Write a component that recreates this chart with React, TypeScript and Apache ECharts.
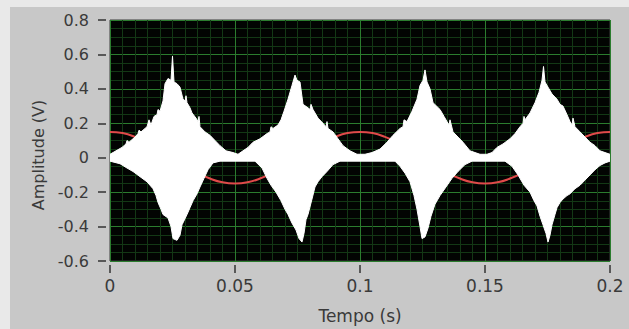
import React, { useEffect, useRef } from "react";
import * as echarts from "echarts";

// Reference sinusoid (red trace)
const refTime = [0, 0.005, 0.01, 0.015, 0.02, 0.025, 0.03, 0.035, 0.04, 0.045, 0.05, 0.055, 0.06, 0.065, 0.07, 0.075, 0.08, 0.085, 0.09, 0.095, 0.1, 0.105, 0.11, 0.115, 0.12, 0.125, 0.13, 0.135, 0.14, 0.145, 0.15, 0.155, 0.16, 0.165, 0.17, 0.175, 0.18, 0.185, 0.19, 0.195, 0.2];
const refAmp = [0.15, 0.143, 0.121, 0.088, 0.046, 0, -0.046, -0.088, -0.121, -0.143, -0.15, -0.143, -0.121, -0.088, -0.046, 0, 0.046, 0.088, 0.121, 0.143, 0.15, 0.143, 0.121, 0.088, 0.046, 0, -0.046, -0.088, -0.121, -0.143, -0.15, -0.143, -0.121, -0.088, -0.046, 0, 0.046, 0.088, 0.121, 0.143, 0.15];

// Upper envelope of the white (noisy) signal
const upperTime = [
  0, 0.0024, 0.0048, 0.0064, 0.0068, 0.0076, 0.01, 0.0112, 0.0116, 0.0124, 0.0148, 0.0156, 0.0164, 0.0176, 0.0188, 0.0192, 0.02, 0.0212, 0.022, 0.0232, 0.0244, 0.025, 0.0256, 0.0268, 0.028, 0.0292, 0.03, 0.0304, 0.0308, 0.032, 0.0328, 0.0344, 0.0352, 0.0356, 0.036, 0.038, 0.04, 0.042, 0.044, 0.0464, 0.0492, 0.0512,
  0.0532, 0.0552, 0.0572, 0.06, 0.0628, 0.064, 0.0644, 0.0652, 0.0672, 0.0684, 0.0696, 0.0712, 0.0728, 0.074, 0.0748, 0.076, 0.0772, 0.0792, 0.08, 0.0804, 0.0812, 0.0832, 0.0852, 0.0864, 0.0868, 0.0872, 0.0892, 0.0912, 0.0932, 0.096, 0.0988, 0.102,
  0.1048, 0.108, 0.1108, 0.1132, 0.116, 0.1172, 0.1176, 0.1188, 0.1208, 0.1228, 0.124, 0.1252, 0.126, 0.1268, 0.128, 0.1292, 0.132, 0.1336, 0.1348, 0.1356, 0.136, 0.1372, 0.1392, 0.1412, 0.144, 0.148, 0.1508,
  0.1528, 0.1548, 0.1572, 0.16, 0.162, 0.164, 0.1652, 0.1656, 0.166, 0.168, 0.17, 0.1716, 0.1728, 0.1734, 0.174, 0.1752, 0.1768, 0.1788, 0.18, 0.1812, 0.1828, 0.184, 0.1848, 0.1852, 0.186, 0.188, 0.19, 0.192, 0.194, 0.196, 0.198, 0.2,
];
const upperAmp = [
  0.02, 0.04, 0.06, 0.08, 0.1, 0.09, 0.12, 0.14, 0.16, 0.15, 0.18, 0.22, 0.19, 0.24, 0.25, 0.28, 0.27, 0.33, 0.43, 0.46, 0.45, 0.59, 0.44, 0.43, 0.41, 0.34, 0.33, 0.36, 0.32, 0.29, 0.26, 0.23, 0.21, 0.24, 0.18, 0.15, 0.13, 0.1, 0.07, 0.04, 0.03, 0.02,
  0.04, 0.06, 0.09, 0.11, 0.14, 0.15, 0.18, 0.17, 0.19, 0.22, 0.27, 0.34, 0.42, 0.48, 0.45, 0.44, 0.31, 0.29, 0.28, 0.31, 0.28, 0.23, 0.2, 0.18, 0.21, 0.17, 0.15, 0.11, 0.07, 0.04, 0.02, 0.02,
  0.03, 0.05, 0.09, 0.13, 0.17, 0.18, 0.22, 0.21, 0.27, 0.34, 0.42, 0.45, 0.51, 0.44, 0.4, 0.32, 0.28, 0.24, 0.21, 0.19, 0.22, 0.15, 0.12, 0.09, 0.04, 0.02, 0.02,
  0.03, 0.06, 0.08, 0.11, 0.14, 0.18, 0.2, 0.24, 0.22, 0.26, 0.32, 0.38, 0.45, 0.53, 0.44, 0.41, 0.37, 0.34, 0.31, 0.3, 0.25, 0.21, 0.19, 0.23, 0.18, 0.15, 0.12, 0.09, 0.07, 0.04, 0.03, 0.02,
];

// Lower envelope of the white (noisy) signal
const lowerTime = [
  0, 0.004, 0.0068, 0.0092, 0.012, 0.0148, 0.0172, 0.0184, 0.0192, 0.0204, 0.0212, 0.0232, 0.0244, 0.0252, 0.0268, 0.028, 0.0288, 0.0308, 0.032, 0.0332, 0.0348, 0.036, 0.0376, 0.0392, 0.0412, 0.044,
  0.058, 0.0608, 0.0628, 0.0644, 0.0664, 0.0684, 0.07, 0.0712, 0.0728, 0.0744, 0.0756, 0.0768, 0.0776, 0.0784, 0.0792, 0.0808, 0.082, 0.0832, 0.0848, 0.0868, 0.0892, 0.092,
  0.114, 0.116, 0.118, 0.12, 0.1216, 0.1228, 0.124, 0.1248, 0.126, 0.1272, 0.1284, 0.13, 0.132, 0.1344, 0.1368, 0.1392, 0.142, 0.1448,
  0.158, 0.1608, 0.1632, 0.1656, 0.168, 0.1696, 0.1708, 0.172, 0.1732, 0.1744, 0.1752, 0.176, 0.1768, 0.178, 0.1788, 0.18, 0.1812, 0.1828, 0.184, 0.186, 0.188, 0.19, 0.192, 0.194, 0.196, 0.198, 0.2,
];
const lowerAmp = [
  -0.02, -0.035, -0.06, -0.08, -0.11, -0.14, -0.18, -0.22, -0.26, -0.3, -0.33, -0.35, -0.4, -0.47, -0.48, -0.45, -0.39, -0.33, -0.29, -0.25, -0.21, -0.17, -0.12, -0.07, -0.03, -0.02,
  -0.02, -0.06, -0.12, -0.16, -0.2, -0.25, -0.3, -0.33, -0.38, -0.42, -0.47, -0.49, -0.44, -0.36, -0.33, -0.24, -0.17, -0.14, -0.11, -0.08, -0.04, -0.02,
  -0.02, -0.05, -0.09, -0.14, -0.22, -0.3, -0.4, -0.47, -0.46, -0.41, -0.34, -0.27, -0.22, -0.17, -0.12, -0.08, -0.04, -0.02,
  -0.02, -0.05, -0.1, -0.16, -0.2, -0.25, -0.28, -0.34, -0.39, -0.44, -0.49, -0.45, -0.39, -0.33, -0.29, -0.26, -0.24, -0.22, -0.21, -0.18, -0.16, -0.13, -0.1, -0.07, -0.045, -0.03, -0.02,
];

const xTickLabels = ["0", "0.05", "0.1", "0.15", "0.2"];

const FONT = "DejaVu Sans";
const TEXT = "#3a3a3a";

export default function App() {
  const ref = useRef<HTMLDivElement>(null);

  useEffect(() => {
    if (!ref.current) return;
    const chart = echarts.init(ref.current, null, { renderer: "svg" });

    const pairs = (ts: number[], vs: number[]) => ts.map((t, i) => [t, vs[i]]);

    chart.setOption({
      animation: false,
      backgroundColor: "#c8c8c8",
      graphic: [
        { type: "rect", left: 0, top: 0, shape: { width: 629, height: 7 }, style: { fill: "#e9e9e9" }, z: -10 },
        { type: "rect", left: 0, top: 0, shape: { width: 10, height: 329 }, style: { fill: "#e9e9e9" }, z: -10 },
        {
          type: "text",
          x: 38,
          y: 155,
          rotation: Math.PI / 2,
          style: {
            text: "Amplitude (V)",
            fill: TEXT,
            font: `16px "${FONT}"`,
            align: "center",
            verticalAlign: "middle",
          },
        },
      ],
      grid: {
        left: 110,
        right: 19,
        top: 20,
        bottom: 66,
        show: true,
        backgroundColor: "#020402",
        borderColor: "#3c3c3c",
        borderWidth: 1,
      },
      xAxis: {
        type: "value",
        min: 0,
        max: 0.2,
        interval: 0.05,
        offset: 4,
        name: "Tempo (s)",
        nameLocation: "middle",
        nameGap: 42,
        nameTextStyle: { color: TEXT, fontSize: 17, fontFamily: FONT },
        axisLine: { show: true, onZero: false, lineStyle: { color: "rgba(0,0,0,0)" } },
        axisTick: { show: true, length: 8, lineStyle: { color: "#333", width: 1.5 } },
        axisLabel: {
          color: TEXT,
          fontSize: 17,
          fontFamily: FONT,
          margin: 12,
          formatter: (v: number) => xTickLabels[Math.round(v / 0.05)] ?? String(v),
        },
        splitLine: { show: true, lineStyle: { color: "#2b7c2e", width: 1 } },
        minorTick: { show: false, splitNumber: 10 },
        minorSplitLine: { show: true, lineStyle: { color: "#133815", width: 1 } },
      },
      yAxis: {
        type: "value",
        min: -0.6,
        max: 0.8,
        interval: 0.2,
        offset: 4,
        axisLine: { show: true, onZero: false, lineStyle: { color: "rgba(0,0,0,0)" } },
        axisTick: { show: true, length: 8, lineStyle: { color: "#333", width: 1.5 } },
        axisLabel: {
          color: TEXT,
          fontSize: 16,
          fontFamily: FONT,
          margin: 17,
          formatter: (v: number) => String(Math.round(v * 10) / 10),
        },
        splitLine: { show: true, lineStyle: { color: "#2b7c2e", width: 1 } },
        minorTick: { show: false, splitNumber: 4 },
        minorSplitLine: { show: true, lineStyle: { color: "#133815", width: 1 } },
      },
      series: [
        {
          type: "line",
          data: pairs(refTime, refAmp),
          smooth: true,
          showSymbol: false,
          lineStyle: { color: "#e04a4a", width: 2 },
          z: 2,
        },
        {
          type: "line",
          data: pairs(upperTime, upperAmp),
          showSymbol: false,
          lineStyle: { color: "#ffffff", width: 1 },
          areaStyle: { color: "#ffffff", opacity: 1, origin: -0.015 },
          z: 3,
        },
        {
          type: "line",
          data: pairs(lowerTime, lowerAmp),
          showSymbol: false,
          lineStyle: { color: "#ffffff", width: 1 },
          areaStyle: { color: "#ffffff", opacity: 1, origin: 0.015 },
          z: 3,
        },
      ],
    });

    return () => chart.dispose();
  }, []);

  return (
    <div
      ref={ref}
      style={{ position: "fixed", left: 0, top: 0, width: 629, height: 329 }}
    />
  );
}
